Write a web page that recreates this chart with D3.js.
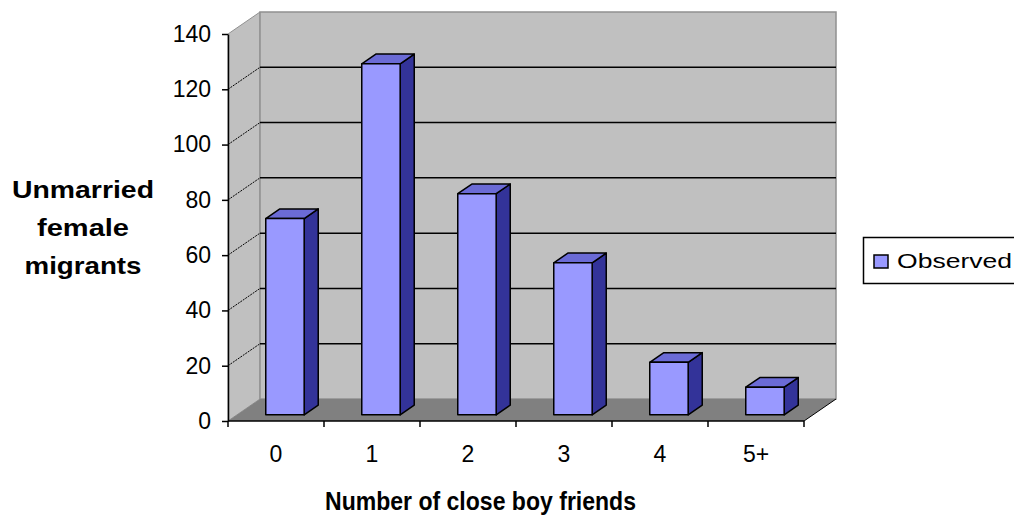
<!DOCTYPE html>
<html>
    <head>
        <title>D3JS</title>
        <meta charset="utf-8">
        <style>
            html, body {
                margin: 0px;
                padding: 0px;
                background-color: #fff;
                font-family: "Liberation Sans", Arial, sans-serif;
            }

            svg text {
                fill: #000;
            }

            .title {
                font-weight: bold;
                font-size: 24px;
            }
        </style>
        <script src="https://cdn.jsdelivr.net/npm/d3@7"></script>
    </head>
    <body>
        <div id="main"></div>

        <script>
            var categories = ["0", "1", "2", "3", "4", "5+"];
            var observed = [71, 127, 80, 55, 19, 10];
            var yTicks = [0, 20, 40, 60, 80, 100, 120, 140];
            var yTitle = ["Unmarried", "female", "migrants"];
            var xTitle = "Number of close boy friends";
            var legendLabel = "Observed";

            var width = 1014;
            var height = 516;

            // 3d depth offset of the back wall
            var depthX = 32, depthY = -22;
            var barFront = 0.28, barBack = 0.72;

            function charts(svg) {
                var x = d3.scaleBand()
                    .domain(categories)
                    .range([228, 804])
                    .paddingInner(0.6)
                    .paddingOuter(0.3);

                var y = d3.scaleLinear()
                    .domain([0, 140])
                    .range([421, 34]);

                var x0 = 228, x1 = 804;
                var y0 = y(0), yTop = y(140);

                // side wall
                svg.append("polygon")
                    .attr("points", [[x0, yTop], [x0 + depthX, yTop + depthY], [x0 + depthX, y0 + depthY], [x0, y0]].join(" "))
                    .attr("fill", "#c0c0c0")
                    .attr("stroke", "#909090");

                // back wall
                svg.append("rect")
                    .attr("x", x0 + depthX)
                    .attr("y", yTop + depthY)
                    .attr("width", x1 - x0)
                    .attr("height", y0 - yTop)
                    .attr("fill", "#c0c0c0")
                    .attr("stroke", "#909090")
                    .attr("stroke-width", 1.5);

                // floor
                svg.append("polygon")
                    .attr("points", [[x0, y0], [x1, y0], [x1 + depthX, y0 + depthY], [x0 + depthX, y0 + depthY]].join(" "))
                    .attr("fill", "#808080");

                svg.append("line")
                    .attr("x1", x1).attr("y1", y0)
                    .attr("x2", x1 + depthX).attr("y2", y0 + depthY)
                    .attr("stroke", "#000");

                // gridlines
                var grid = yTicks.filter(function(d) { return d > 0 && d < 140; });
                svg.selectAll(".grid")
                    .data(grid)
                    .enter()
                    .append("line")
                    .attr("x1", x0 + depthX)
                    .attr("x2", x1 + depthX)
                    .attr("y1", function(d) { return y(d) + depthY; })
                    .attr("y2", function(d) { return y(d) + depthY; })
                    .attr("stroke", "#000")
                    .attr("stroke-width", 1.5);

                svg.selectAll(".gridSide")
                    .data(grid)
                    .enter()
                    .append("line")
                    .attr("x1", x0)
                    .attr("x2", x0 + depthX)
                    .attr("y1", function(d) { return y(d); })
                    .attr("y2", function(d) { return y(d) + depthY; })
                    .attr("stroke", "#000")
                    .attr("stroke-dasharray", "2,1");

                // bars
                var fx = depthX * barFront, fy = depthY * barFront;
                var bx = depthX * (barBack - barFront), by = depthY * (barBack - barFront);
                var bw = x.bandwidth();

                var bar = svg.selectAll(".bar")
                    .data(observed)
                    .enter()
                    .append("g")
                    .attr("transform", "translate(" + fx + "," + fy + ")")
                    .attr("stroke", "#000")
                    .attr("stroke-width", 1.5)
                    .attr("stroke-linejoin", "round");

                bar.append("polygon")
                    .attr("fill", "#333399")
                    .attr("points", function(d, i) {
                        var l = x(categories[i]) + bw, t = y(d);
                        return [[l, t], [l + bx, t + by], [l + bx, y0 + by], [l, y0]].join(" ");
                    });

                bar.append("polygon")
                    .attr("fill", "#6b6bd6")
                    .attr("points", function(d, i) {
                        var l = x(categories[i]), t = y(d);
                        return [[l, t], [l + bx, t + by], [l + bw + bx, t + by], [l + bw, t]].join(" ");
                    });

                bar.append("rect")
                    .attr("fill", "#9999ff")
                    .attr("x", function(d, i) { return x(categories[i]); })
                    .attr("y", function(d) { return y(d); })
                    .attr("width", bw)
                    .attr("height", function(d) { return y0 - y(d); });

                // y axis
                var yAxis = svg.append("g")
                    .attr("transform", "translate(" + x0 + ",0)")
                    .call(d3.axisLeft(y).tickValues(yTicks).tickSize(6).tickSizeOuter(0).tickPadding(11));
                yAxis.select(".domain").attr("stroke-width", 1.5);
                yAxis.selectAll("line").attr("stroke-width", 1.5);
                yAxis.selectAll("text")
                    .attr("font-size", 23)
                    .attr("font-family", "Liberation Sans, Arial, sans-serif");

                // x axis
                var step = x.step();
                var bounds = d3.range(categories.length + 1).map(function(i) { return x0 + i * step; });

                svg.append("line")
                    .attr("x1", x0).attr("x2", x1)
                    .attr("y1", y0).attr("y2", y0)
                    .attr("stroke", "#000")
                    .attr("stroke-width", 1.5);

                svg.selectAll(".xtick")
                    .data(bounds)
                    .enter()
                    .append("line")
                    .attr("x1", function(d) { return d; })
                    .attr("x2", function(d) { return d; })
                    .attr("y1", y0)
                    .attr("y2", y0 + 6)
                    .attr("stroke", "#000")
                    .attr("stroke-width", 1.5);

                svg.selectAll(".xlabel")
                    .data(categories)
                    .enter()
                    .append("text")
                    .attr("x", function(d) { return x(d) + bw / 2; })
                    .attr("y", 462)
                    .attr("font-size", 23)
                    .style("text-anchor", "middle")
                    .text(function(d) { return d; });

                // titles
                var yLens = [142, 92, 117];
                svg.selectAll(".ytitle")
                    .data(yTitle)
                    .enter()
                    .append("text")
                    .attr("class", "title")
                    .attr("x", 83)
                    .attr("y", function(d, i) { return 198 + i * 38; })
                    .attr("textLength", function(d, i) { return yLens[i]; })
                    .attr("lengthAdjust", "spacingAndGlyphs")
                    .style("text-anchor", "middle")
                    .text(function(d) { return d; });

                svg.append("text")
                    .attr("class", "title")
                    .attr("x", 325)
                    .attr("y", 510)
                    .style("font-size", "25px")
                    .attr("textLength", 311)
                    .attr("lengthAdjust", "spacingAndGlyphs")
                    .text(xTitle);

                // legend
                svg.append("rect")
                    .attr("x", 863.5)
                    .attr("y", 237.5)
                    .attr("width", 170)
                    .attr("height", 46)
                    .attr("fill", "#fff")
                    .attr("stroke", "#000")
                    .attr("stroke-width", 1.5);

                svg.append("rect")
                    .attr("x", 874)
                    .attr("y", 255)
                    .attr("width", 14)
                    .attr("height", 13)
                    .attr("fill", "#9999ff")
                    .attr("stroke", "#000")
                    .attr("stroke-width", 1.5);

                svg.append("text")
                    .attr("x", 897)
                    .attr("y", 268)
                    .attr("font-size", 20)
                    .attr("textLength", 115)
                    .attr("lengthAdjust", "spacingAndGlyphs")
                    .text(legendLabel);
            }

            function main() {
                var svg = d3.select("#main")
                    .append("svg")
                    .attr("width", width)
                    .attr("height", height)
                    .style("display", "block");

                charts(svg);
            }

            main();
        </script>
    </body>
</html>
